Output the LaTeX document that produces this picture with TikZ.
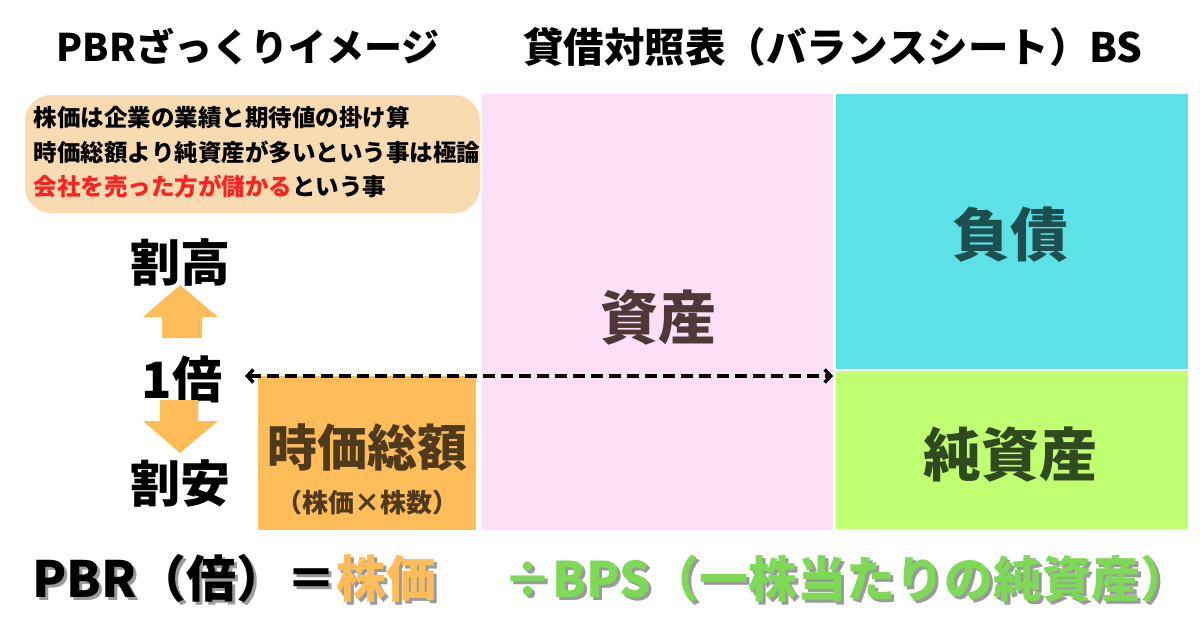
\documentclass[tikz,border=0pt]{standalone}
\usepackage{fontspec}
\setmainfont{Noto Sans CJK JP}
\usetikzlibrary{arrows.meta}
\definecolor{noteC}{HTML}{F9DBB1}
\definecolor{pinkC}{HTML}{FDE0F6}
\definecolor{cyanC}{HTML}{5CE1E6}
\definecolor{limeC}{HTML}{C1FF72}
\definecolor{orangeC}{HTML}{FFBD59}
\definecolor{greenT}{HTML}{7ED957}
\definecolor{redT}{HTML}{FF2020}
\definecolor{assetT}{HTML}{4E3838}
\definecolor{debtT}{HTML}{1D4F50}
\definecolor{equityT}{HTML}{2F4A1F}
\definecolor{capT}{HTML}{4F3A1C}
\definecolor{shadowC}{HTML}{9A9A9A}
\newcommand{\shadowed}[1]{\makebox[0pt][l]{\hspace{3pt}\raisebox{-3pt}{\color{shadowC}#1}}}
\begin{document}
\begin{tikzpicture}[x=1pt,y=-1pt,
  every node/.style={inner sep=0pt, outer sep=0pt},
  fsz/.style={font=\bfseries\fontsize{#1}{#1}\selectfont},
  boxst/.style={draw=none, anchor=north west},
  bigl/.style={fsz=58},
  arrowfill/.style={fill=orangeC, draw=none},
  dashconn/.style={line width=4pt, dash pattern=on 12pt off 6pt,
     {Straight Barb[length=6pt,width=13pt,line width=3.5pt]}-{Straight Barb[length=6pt,width=13pt,line width=3.5pt]}}
]
\useasboundingbox (0,0) rectangle (1200,630);
\fill[white] (0,0) rectangle (1200,630);

% titles
\node[fsz=38] (t1) at (248,47) {PBRざっくりイメージ};
\node[fsz=40.5] (t2) at (833,47) {貸借対照表（バランスシート）BS};

% note box
\node[boxst, fill=noteC, rounded corners=26pt, minimum width=455pt, minimum height=118pt] (note) at (25,95) {};
\node[fsz=23.5, anchor=west] (n1) at (34,118) {株価は企業の業績と期待値の掛け算};
\node[fsz=23.5, anchor=west] (n2) at (34,152) {時価総額より純資産が多いという事は極論};
\node[fsz=23.5, anchor=west] (n3) at (34,186) {\color{redT}会社を売った方が儲かる\color{black}という事};

% balance sheet
\node[boxst, fill=pinkC, minimum width=351pt, minimum height=436pt] (assets) at (482,94) {};
\node[bigl, text=assetT] (assetsL) at (658,318) {資産};
\node[boxst, fill=cyanC, minimum width=352pt, minimum height=275pt] (debt) at (836,94) {};
\node[bigl, text=debtT] (debtL) at (1010,235) {負債};
\node[boxst, fill=limeC, minimum width=352pt, minimum height=158pt] (equity) at (836,371) {};
\node[bigl, text=equityT] (equityL) at (1010,455) {純資産};

% market cap
\node[boxst, fill=orangeC, minimum width=218pt, minimum height=154pt] (cap) at (258,376) {};
\node[fsz=50, text=capT] (capL) at (367,447) {時価総額};
\node[fsz=26, text=capT] (capS) at (367,503) {（株価×株数）};

% left scale
\node[fsz=50] (high) at (180,262) {割高};
\node[fsz=50] (one) at (182,379) {1倍};
\node[fsz=50] (low) at (180,483) {割安};
\fill[arrowfill] (180,285) -- (218,317) -- (202,317) -- (202,338) -- (162,338) -- (162,317) -- (143,317) -- cycle;
\fill[arrowfill] (160,400) -- (198,400) -- (198,421) -- (218,421) -- (180,453) -- (143,421) -- (160,421) -- cycle;

% dashed connector
\coordinate (dl) at (245,376);
\coordinate (dr) at (833,376);
\draw[dashconn] (dl) -- (dr);

% formula with shadow
\node[fsz=50, anchor=west] (f1) at (32,580) {\shadowed{PBR（倍）＝株価}PBR（倍）＝\color{orangeC}株価};
\node[fsz=49, anchor=west, text=greenT] (f2) at (503,580) {\shadowed{÷BPS（一株当たりの純資産）}÷BPS（一株当たりの純資産）};
\end{tikzpicture}
\end{document}
